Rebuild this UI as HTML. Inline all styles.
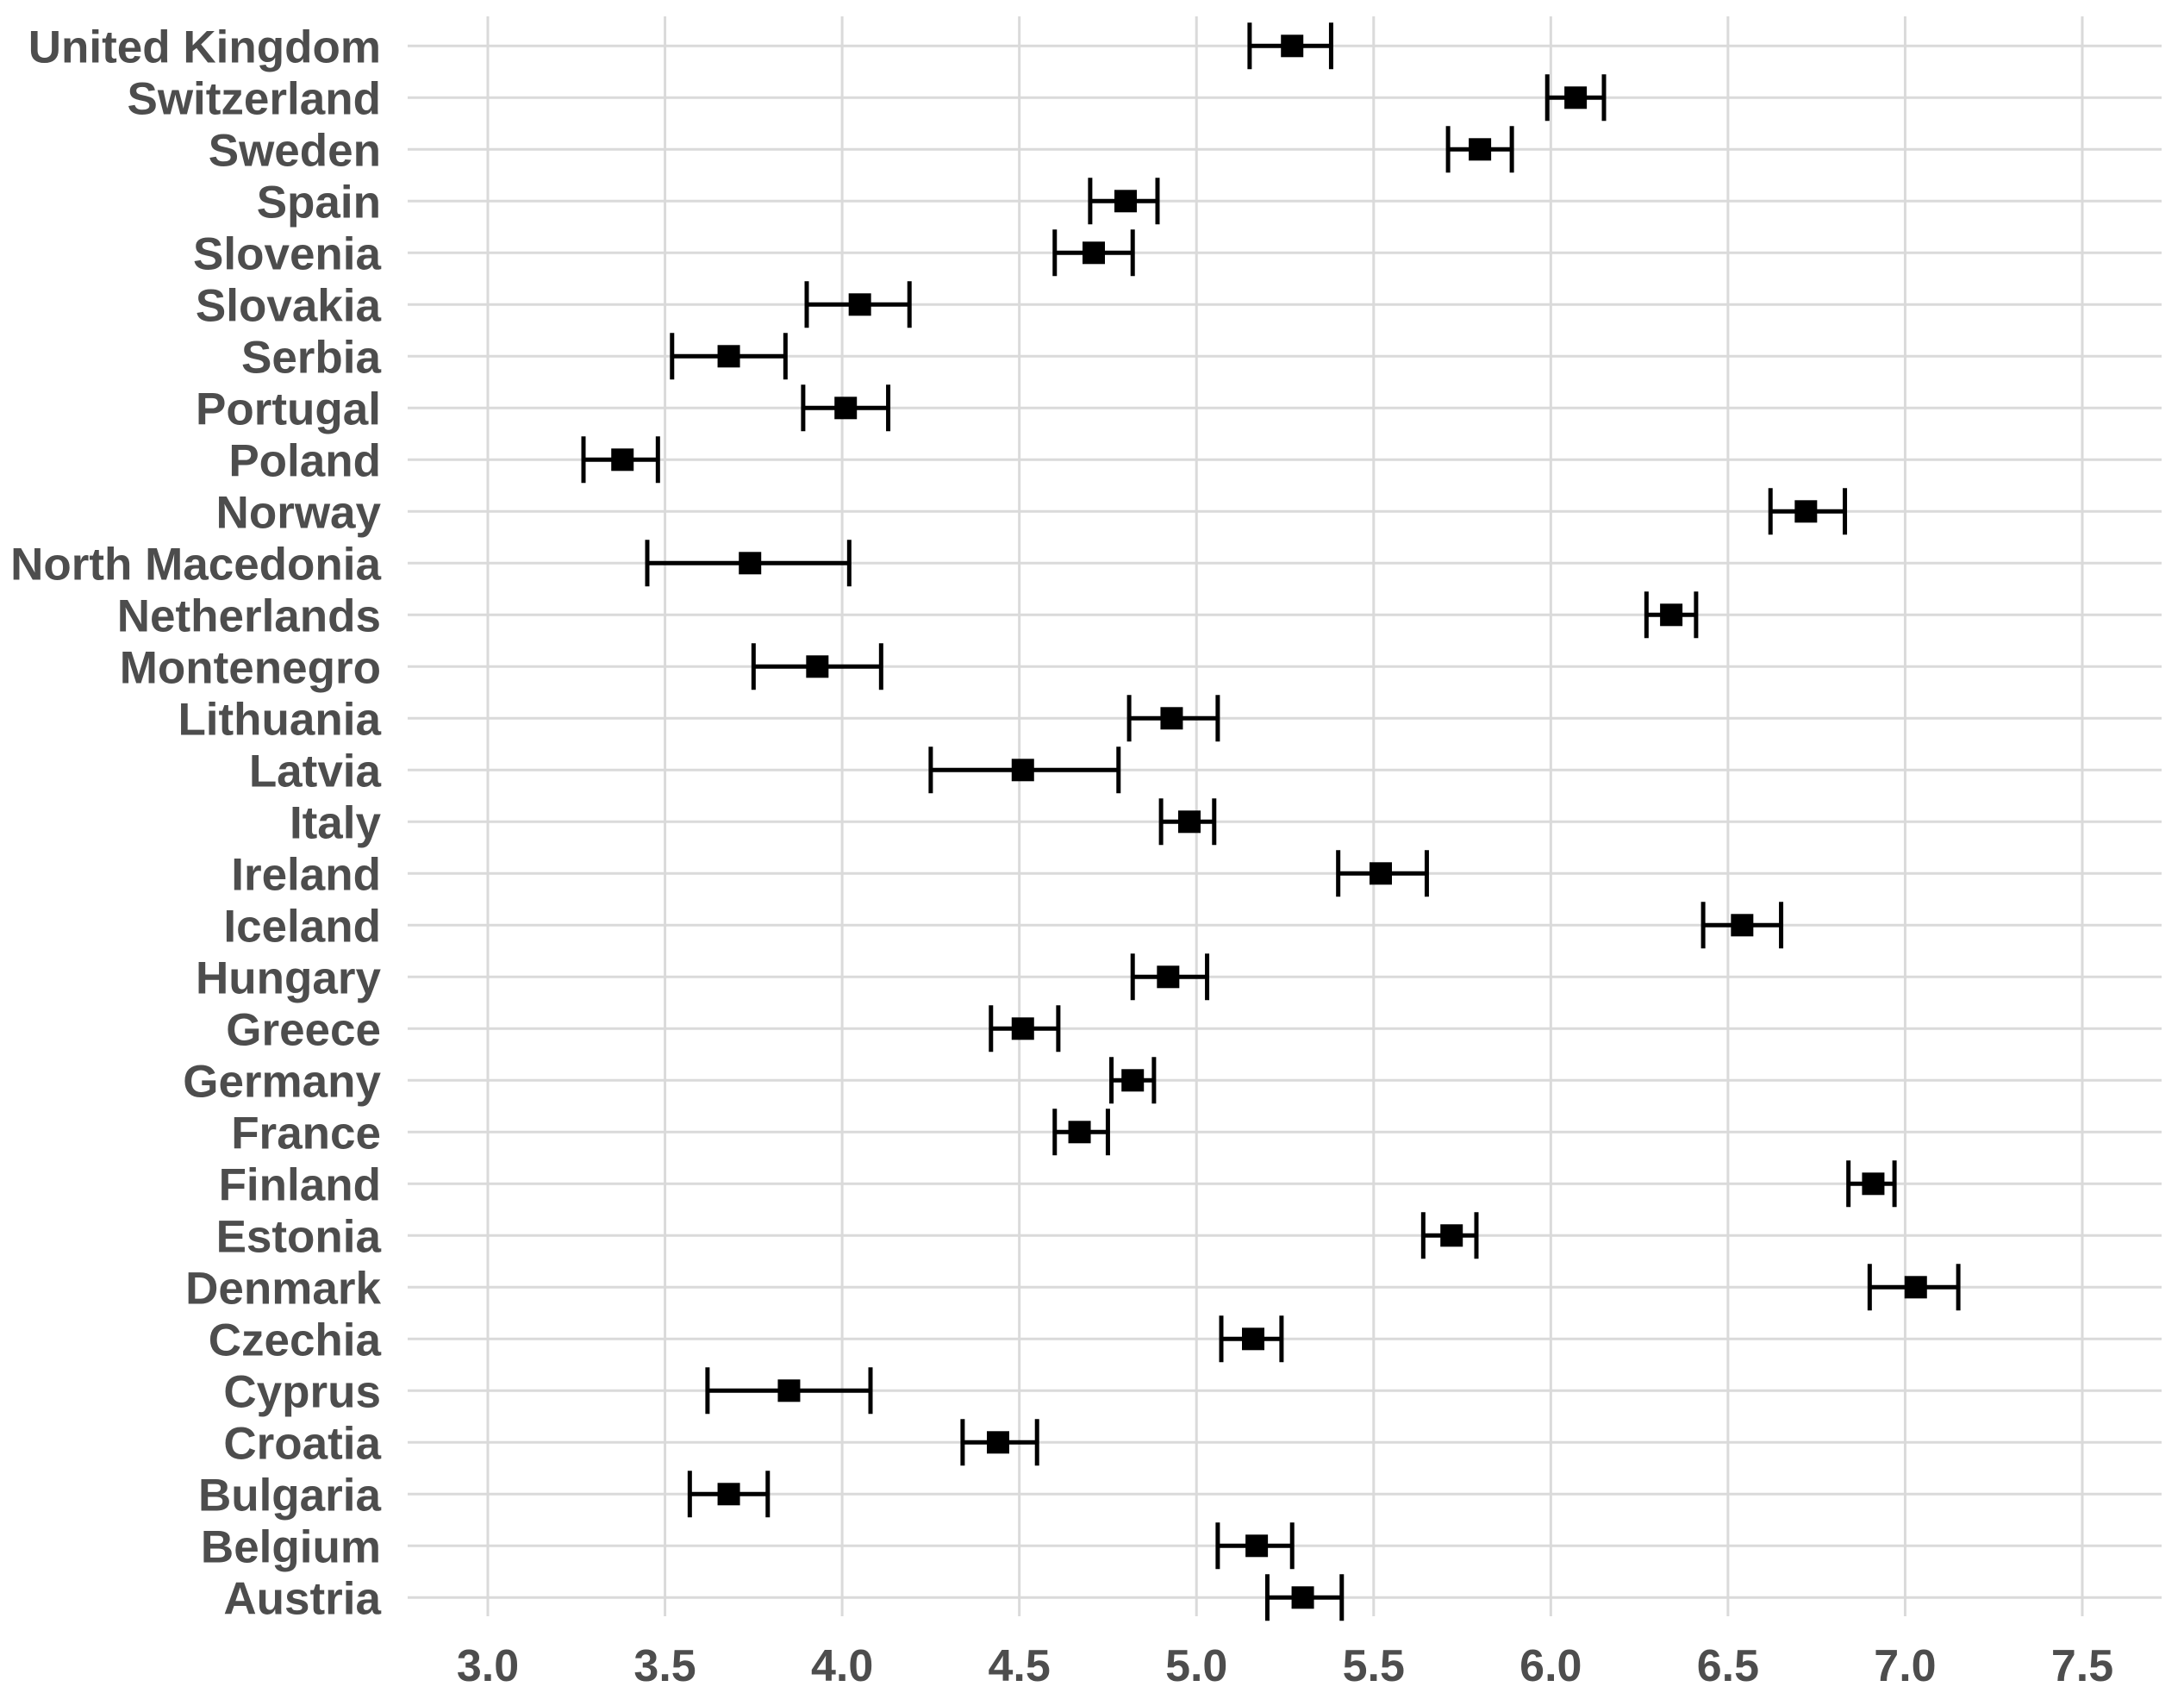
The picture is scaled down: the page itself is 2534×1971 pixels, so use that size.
<!DOCTYPE html>
<html><head><meta charset="utf-8"><style>
html,body{margin:0;padding:0;background:#fff;}
svg{display:block;}
text{font-family:"Liberation Sans",Arial,sans-serif;font-weight:bold;fill:#4d4d4d;}
</style></head><body>
<svg id="chart" width="2534" height="1971" viewBox="0 0 2534 1971" xmlns="http://www.w3.org/2000/svg">
<g id="grid"></g>
<g id="ylabels"></g>
<g id="xlabels"></g>
<g id="marks"></g>
</svg>
<script>
const countries = ["United Kingdom","Switzerland","Sweden","Spain","Slovenia","Slovakia","Serbia","Portugal","Poland","Norway","North Macedonia","Netherlands","Montenegro","Lithuania","Latvia","Italy","Ireland","Iceland","Hungary","Greece","Germany","France","Finland","Estonia","Denmark","Czechia","Cyprus","Croatia","Bulgaria","Belgium","Austria"];
const estimates = [5.27,6.07,5.80,4.80,4.71,4.05,3.68,4.01,3.38,6.72,3.74,6.34,3.93,4.93,4.51,4.98,5.52,6.54,4.92,4.51,4.82,4.67,6.91,5.72,7.03,5.16,3.85,4.44,3.68,5.17,5.30];
const lower = [5.15,5.99,5.71,4.70,4.60,3.90,3.52,3.89,3.27,6.62,3.45,6.27,3.75,4.81,4.25,4.90,5.40,6.43,4.82,4.42,4.76,4.60,6.84,5.64,6.90,5.07,3.62,4.34,3.57,5.06,5.20];
const upper = [5.38,6.15,5.89,4.89,4.82,4.19,3.84,4.13,3.48,6.83,4.02,6.41,4.11,5.06,4.78,5.05,5.65,6.65,5.03,4.61,4.88,4.75,6.97,5.79,7.15,5.24,4.08,4.55,3.79,5.27,5.41];
const xTicks = [3.0,3.5,4.0,4.5,5.0,5.5,6.0,6.5,7.0,7.5];

const NS="http://www.w3.org/2000/svg";
const plotL=473, plotR=2508, plotTop=19, plotBottom=1875;
const x = v => 566 + (v-3.0)*(2416-566)/4.5;
const y = i => 53.3 + i*60.0;
function mk(tag, attrs, parent){const e=document.createElementNS(NS,tag);for(const k in attrs)e.setAttribute(k,attrs[k]);parent.appendChild(e);return e;}
const grid=document.getElementById('grid'), yl=document.getElementById('ylabels'), xl=document.getElementById('xlabels'), marks=document.getElementById('marks');

xTicks.forEach(t=>{
  const l=mk('line',{x1:x(t),x2:x(t),y1:plotTop,y2:plotBottom,stroke:'#dadada','stroke-width':3},grid);
  
  
  const tx=mk('text',{x:x(t),y:1950,'text-anchor':'middle','font-size':52},xl);
  tx.textContent=t.toFixed(1);
  
  
});
countries.forEach((c,i)=>{
  const l=mk('line',{x1:plotL,x2:plotR,y1:y(i),y2:y(i),stroke:'#dadada','stroke-width':3},grid);
  
  
  const tx=mk('text',{x:442,y:y(i)+19,'text-anchor':'end','font-size':53},yl);
  tx.textContent=c;
  
  
  const g=mk('g',{},marks);
  
  
  const yy=y(i);
  mk('line',{x1:x(lower[i]),x2:x(upper[i]),y1:yy,y2:yy,stroke:'#000','stroke-width':5},g);
  mk('line',{x1:x(lower[i]),x2:x(lower[i]),y1:yy-27,y2:yy+27,stroke:'#000','stroke-width':5},g);
  mk('line',{x1:x(upper[i]),x2:x(upper[i]),y1:yy-27,y2:yy+27,stroke:'#000','stroke-width':5},g);
  mk('rect',{x:x(estimates[i])-13,y:yy-13,width:26,height:26,fill:'#000'},g);
});
</script>
</body></html>
